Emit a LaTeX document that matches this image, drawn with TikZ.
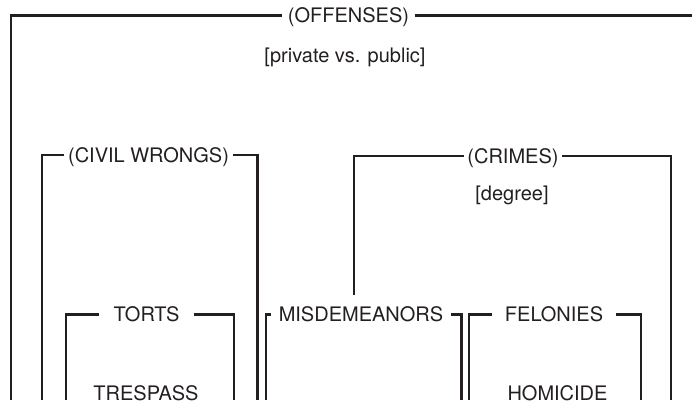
\documentclass[tikz,border=0pt]{standalone}
\usepackage{fontspec}
\setmainfont{TeX Gyre Heros}
\usetikzlibrary{positioning}
\definecolor{ink}{HTML}{231F20}

\begin{document}
\begin{tikzpicture}[x=1pt, y=-1pt, line width=2.4pt, draw=ink, line join=miter,
    lbl/.style={font=\fontsize{20}{24}\selectfont, text=ink, inner ysep=0pt, text height=14.4pt, text depth=0pt},
    note/.style={lbl, inner xsep=0pt}]
    \useasboundingbox (0,0) rectangle (692,404);
    % headings of each bracket, and the notes under them
    \node[lbl, inner xsep=4.5pt] (off) at (348.5,15.5) {(OFFENSES)};
    \node[note] (pvp) at (345,55) {[private vs. public]};
    \node[lbl, inner xsep=2.5pt] (civ) at (148.5,155) {(CIVIL WRONGS)};
    \node[lbl, inner xsep=2.5pt] (cri) at (513,156) {(CRIMES)};
    \node[note] (deg) at (512,193) {[degree]};
    \node[lbl, inner xsep=13pt] (tor) at (146.5,314.5) {TORTS};
    \node[lbl, inner xsep=6.5pt] (mis) at (361,314.5) {MISDEMEANORS};
    \node[lbl, inner xsep=11.5pt] (fel) at (554,314.5) {FELONIES};
    \node[note] (tre) at (146,393) {TRESPASS};
    \node[note] (hom) at (557.5,393) {HOMICIDE};
    % free ends of the bracket legs
    \coordinate (offB) at (11,400);    \coordinate (offR) at (692,15.5);
    \coordinate (civL) at (42,400);    \coordinate (civR) at (257.5,400);
    \coordinate (criB) at (354,295);   \coordinate (criR) at (671,400);
    \coordinate (torL) at (66,400);    \coordinate (torR) at (234,400);
    \coordinate (misL) at (266,400);   \coordinate (misR) at (461.5,400);
    \coordinate (felL) at (469,400);   \coordinate (felR) at (641,400);
    % brackets
    \draw (off.west) -| (offB);  \draw (off.east) -- (offR);
    \draw (civ.west) -| (civL);  \draw (civ.east) -| (civR);
    \draw (cri.west) -| (criB);  \draw (cri.east) -| (criR);
    \draw (tor.west) -| (torL);  \draw (tor.east) -| (torR);
    \draw (mis.west) -| (misL);  \draw (mis.east) -| (misR);
    \draw (fel.west) -| (felL);  \draw (fel.east) -| (felR);
\end{tikzpicture}
\end{document}
